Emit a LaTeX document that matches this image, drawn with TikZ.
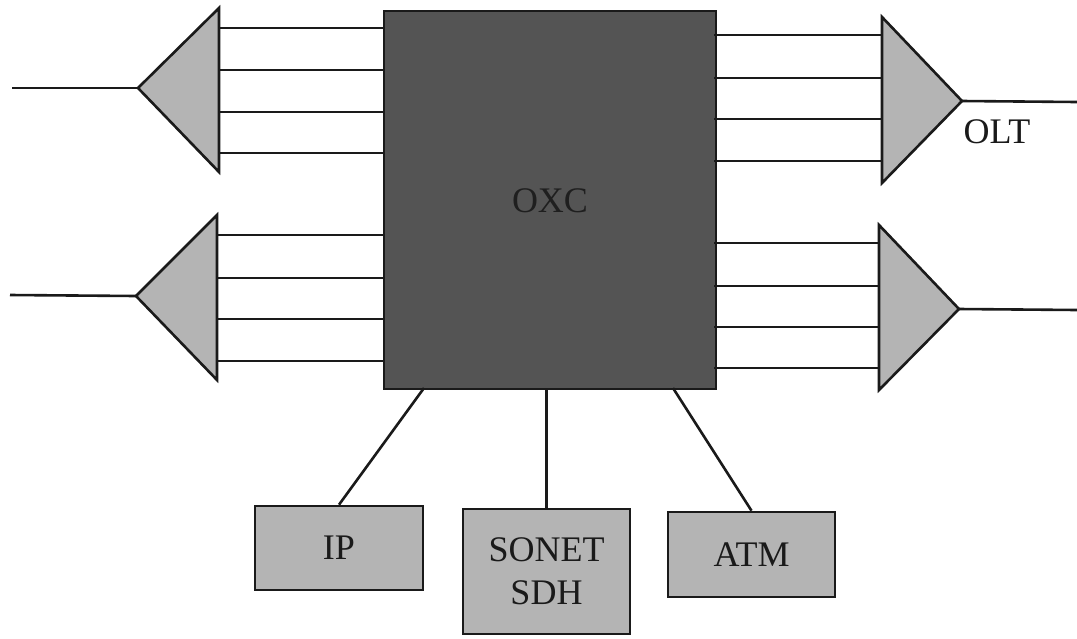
\documentclass[tikz,border=0pt]{standalone}
\usepackage{fontspec}
\setmainfont{Liberation Serif}
\definecolor{oxcgray}{HTML}{545454}
\definecolor{ampgray}{HTML}{B4B4B4}
\definecolor{inkc}{HTML}{1A1A1A}
\begin{document}
\begin{tikzpicture}[x=1pt,y=-1pt]
\tikzset{
  fiber/.style={draw=inkc, line width=2.6pt},
  ampshape/.style={draw=inkc, fill=ampgray, line width=2.6pt, line join=miter},
  oxcbox/.style={draw=inkc, fill=oxcgray, line width=2.2pt, rectangle, inner sep=0pt, anchor=north west},
  clientbox/.style={draw=inkc, fill=ampgray, line width=2.6pt, rectangle, inner sep=0pt, align=center,
    font=\fontsize{36}{40}\selectfont, text=inkc},
  labeltext/.style={font=\fontsize{36}{40}\selectfont, text=inkc, inner sep=0pt}
}
\useasboundingbox (0,0) rectangle (1077,638);
\fill[white] (0,0) rectangle (1077,638);

% OXC
\node[oxcbox, minimum width=332pt, minimum height=378pt] (oxc) at (383,10) {};
\node[labeltext, text=black!88] (oxclabel) at (550,201) {OXC};

% left top amplifier
\coordinate (ltapex) at (138,88);
\coordinate (ltin) at (12,88);
\draw[fiber] (ltin) -- (ltapex);
\foreach \yy in {28,70,112,153} \draw[fiber] (219,\yy) -- (384,\yy);
\draw[ampshape] (219,8) -- (219,172) -- (ltapex) -- cycle;

% left bottom amplifier
\coordinate (lbapex) at (136,296);
\coordinate (lbin) at (10,295);
\draw[fiber] (lbin) -- (lbapex);
\foreach \yy in {235,278,319,361} \draw[fiber] (217,\yy) -- (384,\yy);
\draw[ampshape] (217,215) -- (217,380) -- (lbapex) -- cycle;

% right top amplifier
\coordinate (rtapex) at (962,101);
\coordinate (rtout) at (1077,102);
\draw[fiber] (rtapex) -- (rtout);
\foreach \yy in {35,78,119,161} \draw[fiber] (714,\yy) -- (882,\yy);
\draw[ampshape] (882,17) -- (882,183) -- (rtapex) -- cycle;
\node[labeltext] (olt) at (997,132) {OLT};

% right bottom amplifier
\coordinate (rbapex) at (959,309);
\coordinate (rbout) at (1077,310);
\draw[fiber] (rbapex) -- (rbout);
\foreach \yy in {243,286,327,368} \draw[fiber] (714,\yy) -- (879,\yy);
\draw[ampshape] (879,225) -- (879,390) -- (rbapex) -- cycle;

% client boxes
\node[clientbox, minimum width=168pt, minimum height=84pt] (ip) at (339,548) {IP};
\node[clientbox, minimum width=167pt, minimum height=125pt] (sonet) at (546.5,571.5) {SONET\\[3pt]SDH};
\node[clientbox, minimum width=167pt, minimum height=85pt] (atm) at (751.5,554.5) {ATM};

% connectors
\coordinate (oxcip) at (424,388);
\coordinate (oxcsonet) at (546.5,388);
\coordinate (oxcatm) at (673,388);
\draw[fiber] (oxcip) -- (ip.north);
\draw[fiber] (oxcsonet) -- (sonet.north);
\draw[fiber] (oxcatm) -- (atm.north);
\end{tikzpicture}
\end{document}
